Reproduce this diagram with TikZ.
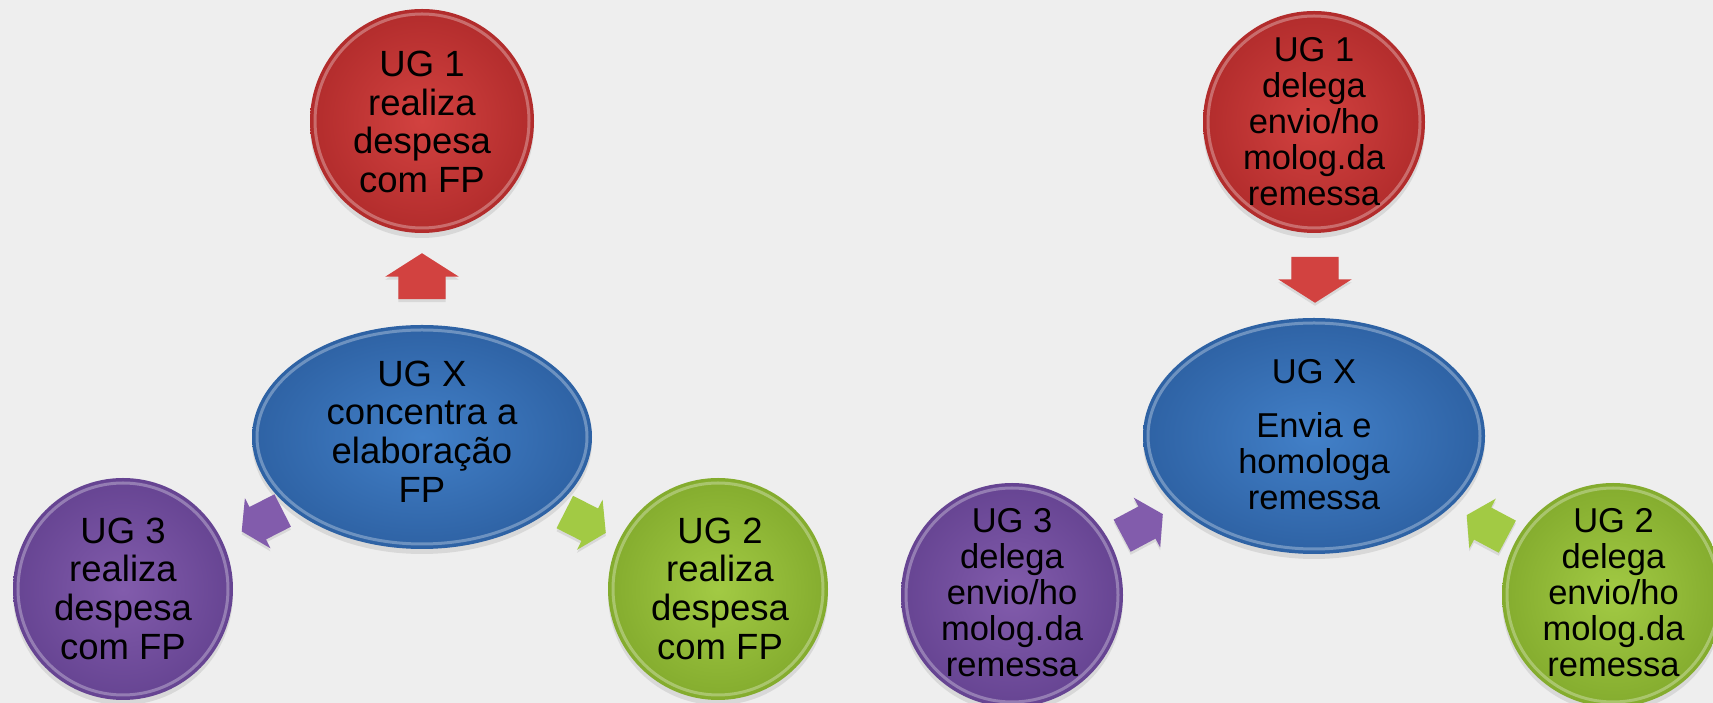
\documentclass[tikz,border=0pt]{standalone}
\usepackage{fontspec}
\setmainfont{Liberation Sans}
\usetikzlibrary{shapes.geometric,shapes.arrows,shadows,calc}
\definecolor{bgc}{RGB}{238,238,238}
\definecolor{redC}{RGB}{210,66,64}
\definecolor{redE}{RGB}{178,44,44}
\definecolor{bluC}{RGB}{66,128,200}
\definecolor{bluE}{RGB}{46,98,164}
\definecolor{purC}{RGB}{130,92,172}
\definecolor{purE}{RGB}{102,68,146}
\definecolor{grnC}{RGB}{162,202,68}
\definecolor{grnE}{RGB}{132,172,46}
\tikzset{
  ball/.style={ellipse, inner sep=0pt, draw=none,
    drop shadow={opacity=0.2, shadow xshift=0pt, shadow yshift=-5pt},
    path picture={\draw[white, draw opacity=0.3, line width=3pt]
      let \p1=(path picture bounding box.north east),
          \p2=(path picture bounding box.center) in
      (\p2) ellipse ({\x1-\x2-5pt} and {\y1-\y2-5pt});}},
  redball/.style={ball, inner color=redC, outer color=redE},
  bluball/.style={ball, inner color=bluC, outer color=bluE},
  purball/.style={ball, inner color=purC, outer color=purE},
  grnball/.style={ball, inner color=grnC, outer color=grnE},
  blockarrow/.style={single arrow, inner xsep=0pt, draw=none,
    single arrow tip angle=115, minimum height=46pt, anchor=tip,
    drop shadow={opacity=0.2, shadow xshift=0pt, shadow yshift=-3pt}},
  bigarrow/.style={blockarrow, inner ysep=23.5pt, single arrow head extend=13pt},
  smallarrow/.style={blockarrow, inner ysep=18pt, single arrow head extend=10pt},
  txtL/.style={align=center, text=black, inner sep=0pt, font=\fontsize{36.5}{38.7}\selectfont},
  txtR/.style={align=center, text=black, inner sep=0pt, font=\fontsize{34.5}{36}\selectfont},
}
\begin{document}
\begin{tikzpicture}[x=1pt, y=1pt]
\fill[bgc] (0,0) rectangle (1713,703);
\useasboundingbox (0,0) rectangle (1713,703);
\clip (0,0) rectangle (1713,703);

% ---------- left panel ----------
\node[redball, minimum width=224pt, minimum height=224pt] (u1L) at (422,582) {};
\node[bluball, minimum width=340pt, minimum height=224pt] (xL) at (422,266) {};
\node[purball, minimum width=220pt, minimum height=222pt] (u3L) at (123,114) {};
\node[grnball, minimum width=220pt, minimum height=222pt] (u2L) at (718,114) {};

\node[bigarrow, fill=redC, rotate=90] (a1L) at (422,450) {};
\node[smallarrow, fill=purC, rotate=207] (a3L) at (241.5,171.5) {};
\node[smallarrow, fill=grnC, rotate=333] (a2L) at (606,170) {};

\node[txtL] (t1L) at (422,581) {UG 1\\realiza\\despesa\\com FP};
\node[txtL] (txL) at (422,271.5) {UG X\\concentra a\\elaboração\\FP};
\node[txtL] (t3L) at (123,114.5) {UG 3\\realiza\\despesa\\com FP};
\node[txtL] (t2L) at (720,114.5) {UG 2\\realiza\\despesa\\com FP};

% ---------- right panel ----------
\node[redball, minimum width=222pt, minimum height=222pt] (u1R) at (1314,581) {};
\node[bluball, minimum width=342pt, minimum height=236pt] (xR) at (1314,267) {};
\node[purball, minimum width=222pt, minimum height=224pt] (u3R) at (1012,108) {};
\node[grnball, minimum width=222pt, minimum height=224pt] (u2R) at (1613,108) {};

\node[bigarrow, fill=redC, rotate=270] (a1R) at (1315,400) {};
\node[smallarrow, fill=purC, rotate=28] (a3R) at (1163,189) {};
\node[smallarrow, fill=grnC, rotate=152] (a2R) at (1466.5,188) {};

\node[txtR] (t1R) at (1314,581) {UG 1\\delega\\envio/ho\\molog.da\\remessa};
\node[txtR] (txR) at (1314,268.5) {UG X\\[18pt]Envia e\\homologa\\remessa};
\node[txtR] (t3R) at (1012,110) {UG 3\\delega\\envio/ho\\molog.da\\remessa};
\node[txtR] (t2R) at (1613.5,110) {UG 2\\delega\\envio/ho\\molog.da\\remessa};
\end{tikzpicture}
\end{document}
